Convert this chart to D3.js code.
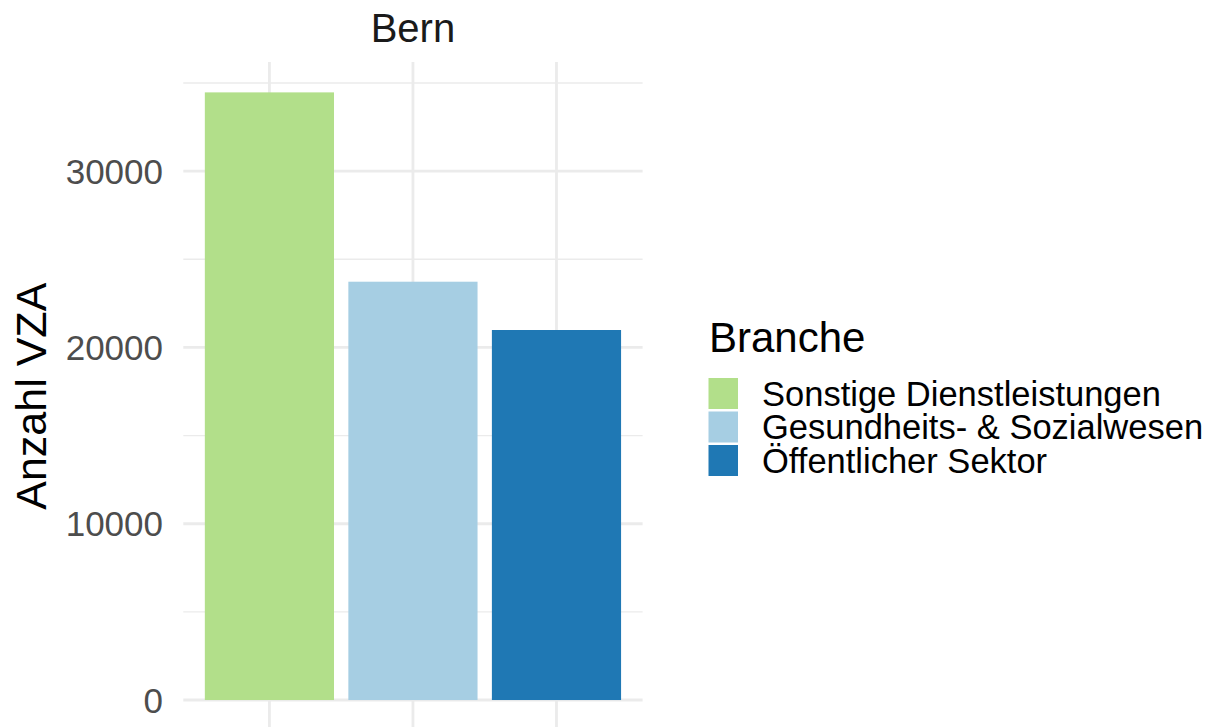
<!DOCTYPE html>
<meta charset="utf-8">
<style>
  body { margin: 0; background: #fff; }
  text { font-family: "Liberation Sans", Arial, sans-serif; }
</style>
<body>
<div id="chart"></div>
<script src="https://d3js.org/d3.v7.min.js"></script>
<script>
// data
var categories = ["Sonstige Dienstleistungen", "Gesundheits- & Sozialwesen", "Öffentlicher Sektor"];
var values = [34470, 23730, 20990];
var colors = ["#B2DF8A", "#A6CEE3", "#1F78B4"];
var yTicks = [0, 10000, 20000, 30000];
var yMinor = [5000, 15000, 25000, 35000];
var facet = "Bern";

var W = 1206, H = 727;
var panel = { left: 183.3, right: 642.6, top: 62, bottom: 730.4 };

var svg = d3.select("#chart").append("svg")
  .attr("width", W).attr("height", H);

// discrete x with ggplot's 0.6 expansion
var x = d3.scaleLinear().domain([0.4, categories.length + 0.6]).range([panel.left, panel.right]);
var maxV = d3.max(values), pad = maxV * 0.05;
var y = d3.scaleLinear().domain([-pad, maxV + pad]).range([panel.bottom, panel.top]);

var grid = svg.append("g");
grid.selectAll("line.minor").data(yMinor).enter().append("line")
  .attr("x1", panel.left).attr("x2", panel.right)
  .attr("y1", d => y(d)).attr("y2", d => y(d))
  .attr("stroke", "#EBEBEB").attr("stroke-width", 1.4);
grid.selectAll("line.major").data(yTicks).enter().append("line")
  .attr("x1", panel.left).attr("x2", panel.right)
  .attr("y1", d => y(d)).attr("y2", d => y(d))
  .attr("stroke", "#EBEBEB").attr("stroke-width", 2.8);
grid.selectAll("line.vx").data(categories).enter().append("line")
  .attr("x1", (d, i) => x(i + 1)).attr("x2", (d, i) => x(i + 1))
  .attr("y1", panel.top).attr("y2", panel.bottom)
  .attr("stroke", "#EBEBEB").attr("stroke-width", 2.8);

var bw = (x(2) - x(1)) * 0.9;
svg.append("g").selectAll("rect").data(values).enter().append("rect")
  .attr("x", (d, i) => x(i + 1) - bw / 2)
  .attr("width", bw)
  .attr("y", d => y(d))
  .attr("height", d => y(0) - y(d))
  .attr("fill", (d, i) => colors[i]);

// y axis labels
svg.append("g").selectAll("text").data(yTicks).enter().append("text")
  .attr("x", 163).attr("y", d => y(d) + 12.5)
  .attr("text-anchor", "end")
  .attr("font-size", 35).attr("fill", "#4D4D4D")
  .text(d => d);

svg.append("text")
  .attr("transform", "translate(45.5," + ((panel.top + panel.bottom) / 2) + ") rotate(-90)")
  .attr("text-anchor", "middle")
  .attr("font-size", 43).attr("fill", "#000")
  .text("Anzahl VZA");

// facet strip title
svg.append("text")
  .attr("x", (panel.left + panel.right) / 2).attr("y", 41.5)
  .attr("text-anchor", "middle")
  .attr("font-size", 40).attr("fill", "#1A1A1A")
  .text(facet);

// legend
var lg = svg.append("g");
lg.append("text").attr("x", 709).attr("y", 351.5)
  .attr("font-size", 42).attr("fill", "#000").text("Branche");
var keyTop = 378, keyStep = 33.5, keySize = 31;
var items = lg.selectAll("g.item").data(categories).enter().append("g");
items.append("rect")
  .attr("x", 708.5).attr("y", (d, i) => keyTop + i * keyStep)
  .attr("width", keySize - 1.5).attr("height", keySize)
  .attr("fill", (d, i) => colors[i]);
items.append("text")
  .attr("x", 762).attr("y", (d, i) => keyTop + i * keyStep + keySize / 2 + 12)
  .attr("font-size", 34.5).attr("fill", "#000")
  .text(d => d);
</script>
</body>
